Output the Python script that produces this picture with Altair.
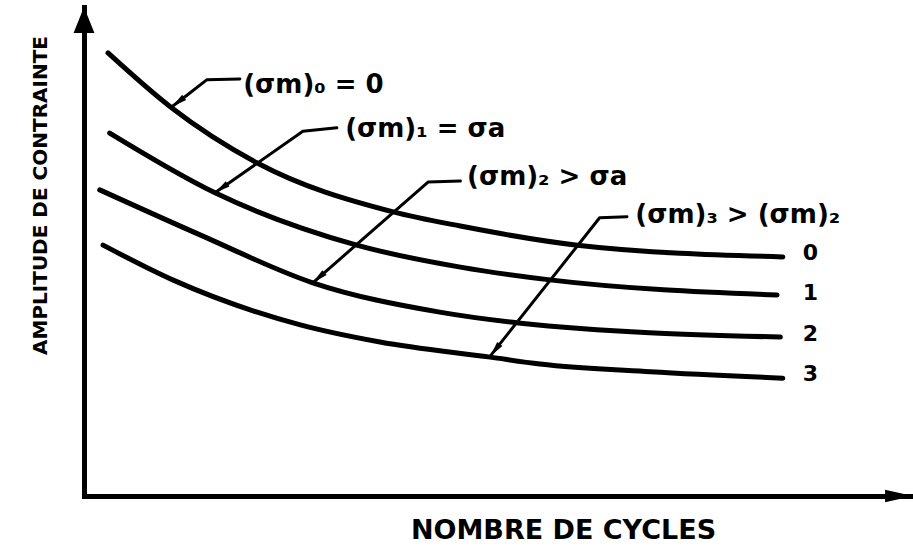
import math
import altair as alt
import pandas as pd

# S-N (Wöhler) curves for increasing mean stress: stress amplitude against
# number of cycles, both in arbitrary units (0-100).
curve_ids = ["0", "1", "2", "3"]
curve_x = [
    [2.9, 10.4, 20.9, 37.3, 45.4, 59.5, 84.3],
    [3.1, 15.8, 32.9, 45.4, 56.2, 83.6],
    [1.9, 14.0, 27.6, 42.9, 52.4, 84.0],
    [2.3, 10.7, 26.1, 35.7, 49.0, 55.0, 68.3, 84.3],
]
curve_y = [
    [90.6, 79.6, 68.1, 58.1, 55.2, 51.3, 48.9],
    [74.2, 62.0, 51.3, 46.8, 44.2, 41.1],
    [62.6, 53.4, 43.6, 37.6, 35.4, 32.5],
    [51.3, 44.2, 35.0, 31.5, 28.4, 27.0, 25.4, 24.1],
]

# curve numbers written past the right end of each curve
end_label_x = 86.7
end_label_y = [49.7, 41.5, 33.1, 24.9]

# mean-stress annotations and their leader lines (last point = arrow tip)
note_texts = ["(σm)₀ = 0", "(σm)₁ = σa", "(σm)₂ > σa", "(σm)₃ > (σm)₂"]
note_x = [19.2, 31.5, 46.2, 66.5]
note_y = [84.0, 75.1, 65.2, 57.5]
leader_x = [[18.8, 14.8, 12.3, 10.6], [30.5, 26.4, 15.8], [45.4, 41.5, 27.6], [65.5, 62.2, 49.0]]
leader_y = [[85.3, 85.1, 81.8, 79.6], [75.3, 74.6, 62.0], [64.4, 64.2, 43.6], [57.1, 56.9, 28.6]]

# ---------------------------------------------------------------- layout
W, H = 829, 489
PAD = {"left": 84, "top": 7, "right": 0, "bottom": 55}
FONT = "DejaVu Sans"

xs = alt.Scale(domain=[0, 100], nice=False, zero=False)
ys = alt.Scale(domain=[0, 100], nice=False, zero=False)

x_axis = alt.Axis(
    title="NOMBRE DE CYCLES", ticks=False, labels=False, grid=False,
    domainWidth=5, domainColor="black", domainCap="square",
    titleFont=FONT, titleFontSize=27, titleFontWeight="bold", titleColor="black",
    titleX=479, titleY=34, titleAlign="center", titleBaseline="middle",
)
y_axis = alt.Axis(
    title="AMPLITUDE DE CONTRAINTE", ticks=False, labels=False, grid=False,
    domainWidth=5, domainColor="black", domainCap="square",
    titleFont=FONT, titleFontSize=20, titleFontWeight="bold", titleColor="black",
    titleX=-44, titleY=188, titleAngle=270, titleAlign="center", titleBaseline="middle",
)


def X(field):
    return alt.X(field, type="quantitative", scale=xs, axis=x_axis)


def Y(field):
    return alt.Y(field, type="quantitative", scale=ys, axis=y_axis)


def heading(x0, y0, x1, y1):
    """Screen angle (clockwise from up) of the segment (x0,y0)->(x1,y1)."""
    dx = (x1 - x0) * W / 100
    dy = -(y1 - y0) * H / 100
    return math.degrees(math.atan2(dx, -dy)) % 360


# arrowhead symbols: tip at the origin, body pointing "down" before rotation
HEAD_SMALL = "M0,0L0.42,2L-0.42,2Z"
HEAD_X_AXIS = "M0,0L0.45,2L-0.45,2Z"
HEAD_Y_AXIS = "M0,0L0.8,2L-0.8,2Z"

# ---------------------------------------------------------------- tables
curves_df = pd.DataFrame(
    [
        {"courbe": cid, "ordre": i, "cycles": x, "amplitude": y}
        for cid, xl, yl in zip(curve_ids, curve_x, curve_y)
        for i, (x, y) in enumerate(zip(xl, yl))
    ]
)
ends_df = pd.DataFrame(
    {"cycles": [end_label_x] * len(curve_ids), "amplitude": end_label_y, "texte": curve_ids}
)
notes_df = pd.DataFrame({"cycles": note_x, "amplitude": note_y, "texte": note_texts})
leaders_df = pd.DataFrame(
    [
        {"note": k, "ordre": i, "cycles": x, "amplitude": y}
        for k, (xl, yl) in enumerate(zip(leader_x, leader_y))
        for i, (x, y) in enumerate(zip(xl, yl))
    ]
)
tips_df = pd.DataFrame(
    {
        "cycles": [xl[-1] for xl in leader_x],
        "amplitude": [yl[-1] for yl in leader_y],
        "angle": [heading(xl[-2], yl[-2], xl[-1], yl[-1]) for xl, yl in zip(leader_x, leader_y)],
    }
)
x_tip_df = pd.DataFrame({"cycles": [100], "amplitude": [0], "angle": [90]})
y_tip_df = pd.DataFrame({"cycles": [0], "amplitude": [100], "angle": [0]})

# ---------------------------------------------------------------- layers
curves = alt.Chart(curves_df).mark_line(
    color="black", strokeWidth=5, interpolate="monotone", strokeCap="round"
).encode(x=X("cycles"), y=Y("amplitude"), detail="courbe:N", order="ordre:Q")

leaders = alt.Chart(leaders_df).mark_line(
    color="black", strokeWidth=3, strokeCap="round", strokeJoin="round"
).encode(x=X("cycles"), y=Y("amplitude"), detail="note:N", order="ordre:Q")

tips = alt.Chart(tips_df).mark_point(
    shape=HEAD_SMALL, filled=True, color="black", opacity=1, size=240, strokeWidth=0
).encode(x=X("cycles"), y=Y("amplitude"), angle=alt.Angle("angle:Q", scale=None))

x_tip = alt.Chart(x_tip_df).mark_point(
    shape=HEAD_X_AXIS, filled=True, color="black", opacity=1, size=780, strokeWidth=0
).encode(x=X("cycles"), y=Y("amplitude"), angle=alt.Angle("angle:Q", scale=None))

y_tip = alt.Chart(y_tip_df).mark_point(
    shape=HEAD_Y_AXIS, filled=True, color="black", opacity=1, size=680, strokeWidth=0
).encode(x=X("cycles"), y=Y("amplitude"), angle=alt.Angle("angle:Q", scale=None))

notes = alt.Chart(notes_df).mark_text(
    align="left", baseline="middle", font=FONT, fontSize=26, fontWeight="bold", color="black"
).encode(x=X("cycles"), y=Y("amplitude"), text="texte:N")

ends = alt.Chart(ends_df).mark_text(
    align="left", baseline="middle", font=FONT, fontSize=22, fontWeight="bold", color="black"
).encode(x=X("cycles"), y=Y("amplitude"), text="texte:N")

chart = (
    alt.layer(curves, leaders, tips, notes, ends, x_tip, y_tip)
    .properties(width=W, height=H, autosize=alt.AutoSizeParams(type="none"), padding=PAD,
                background="white")
    .configure_view(stroke=None)
)

chart.save("out.html", embed_options={"renderer": "svg", "actions": False})
